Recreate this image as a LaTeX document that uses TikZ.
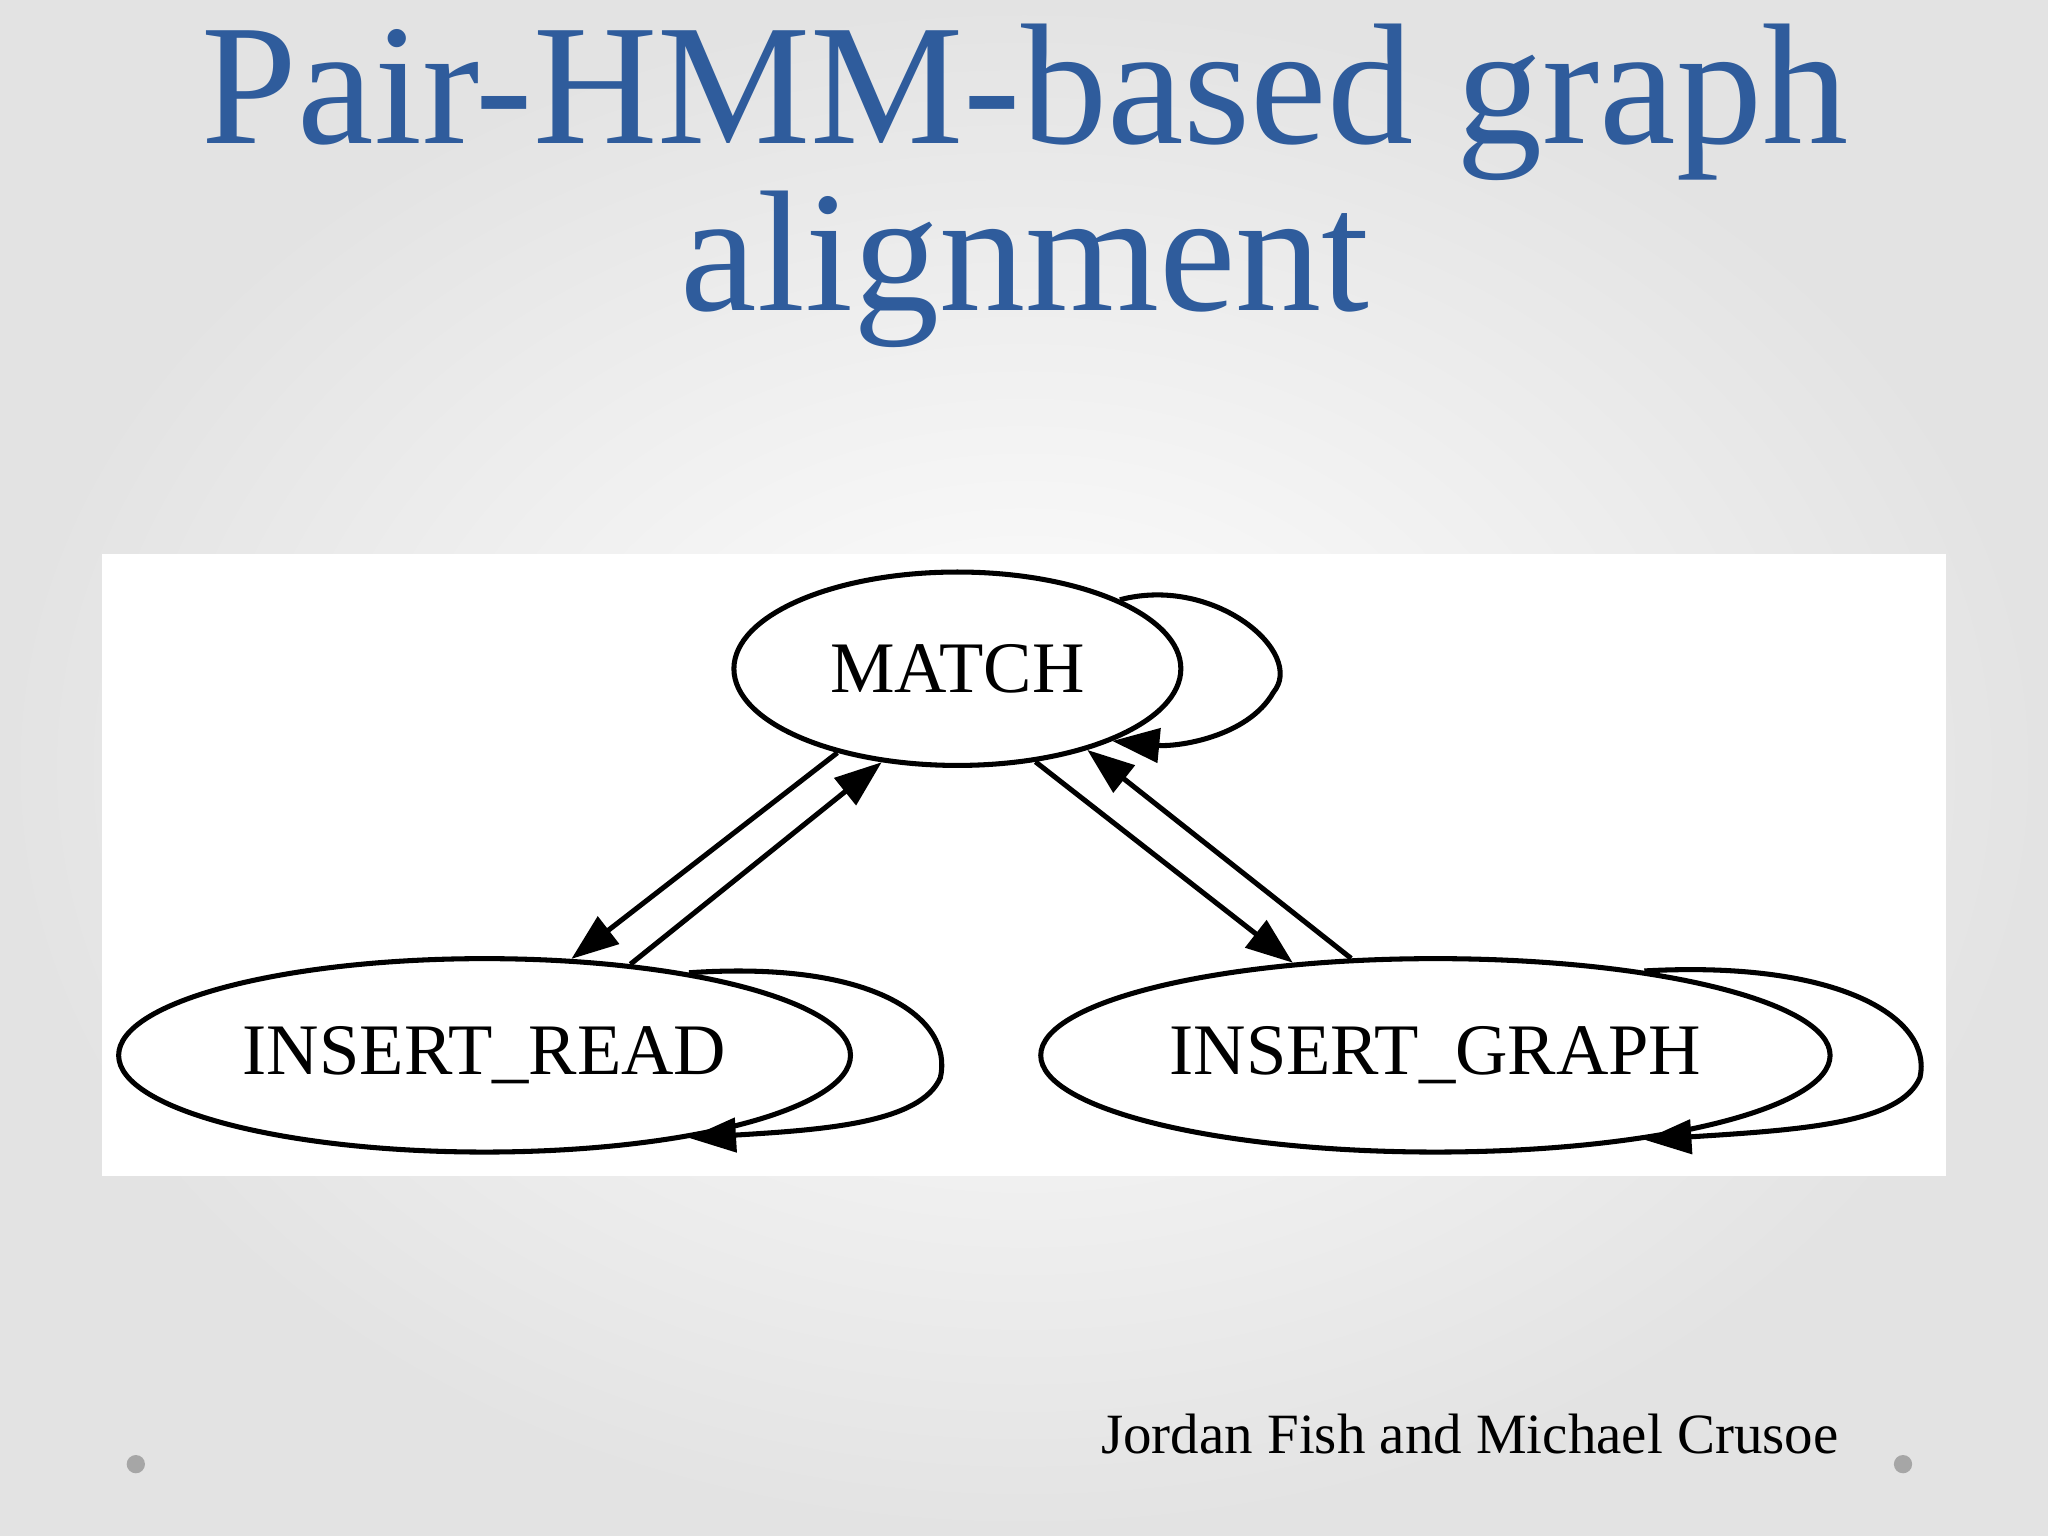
\documentclass[tikz,border=0pt]{standalone}
\usepackage{fontspec}
\setmainfont{Liberation Serif}
\usetikzlibrary{shapes.geometric,arrows.meta}
\definecolor{titleblue}{HTML}{2F5C9C}
\tikzset{
  st/.style={draw,ellipse,line width=1.1pt,inner sep=0pt,minimum height=1.48cm,font=\fontsize{15.8}{18}\selectfont},
  ed/.style={line width=1.1pt,-{Triangle[length=0.36cm,width=0.26cm]}},
  dot/.style={fill=gray!70,draw=none}
}
\begin{document}
\begin{tikzpicture}[x=0.01cm,y=-0.01cm]
\useasboundingbox (0,0) rectangle (1568,1176);
\shade[inner color=white,outer color=gray!22] (0,0) rectangle (1568,1176);
\fill[white] (78,424) rectangle (1490,900);
\node[text=titleblue,font=\fontsize{37.5}{44}\selectfont] (t1) at (785,78) {Pair-HMM-based graph};
\node[text=titleblue,font=\fontsize{37.5}{44}\selectfont] (t2) at (785,206) {alignment};
\node[st,minimum width=3.42cm] (m) at (733,512) {MATCH};
\node[st,minimum width=5.6cm] (r) at (371,808) {INSERT\_READ};
\node[st,minimum width=6.04cm] (g) at (1099,808) {INSERT\_GRAPH};
\draw[ed] (m.-145) -- (r.48);
\draw[ed] (r.32) -- (m.-129);
\draw[ed] (m.-50) -- (g.147);
\draw[ed] (g.131) -- (m.-32);
\draw[ed] (m.23) .. controls (930,440) and (1000,500) .. (975,530) .. controls (955,565) and (900,572) .. (m.-25);
\draw[ed] (r.22) .. controls (670,735) and (730,780) .. (720,825) .. controls (705,860) and (630,865) .. (r.-22);
\draw[ed] (g.22) .. controls (1410,735) and (1480,780) .. (1470,825) .. controls (1455,860) and (1380,865) .. (g.-22);
\node[anchor=east,font=\fontsize{12.4}{15}\selectfont] (a) at (1420,1098) {Jordan Fish and Michael Crusoe};
\fill[dot] (104,1121) circle (7);
\fill[dot] (1457,1121) circle (7);
\end{tikzpicture}
\end{document}
